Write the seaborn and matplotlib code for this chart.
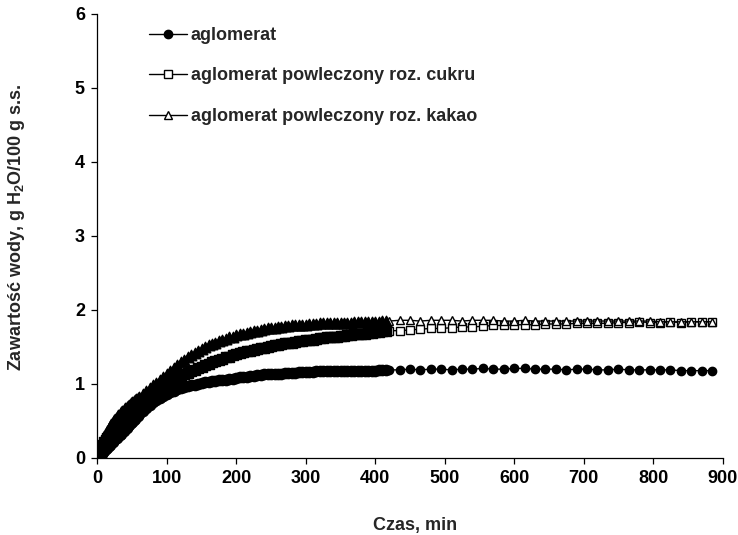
import numpy as np
import pandas as pd
import matplotlib
matplotlib.use("Agg")
import matplotlib.pyplot as plt
import seaborn as sns

# Measurement times [min]: every 2 min up to 60, every 5 min up to 415,
# then every 15 min until the end of the run
time_a = list(range(0, 61, 2))
time_b = list(range(65, 416, 5))
time_c = list(range(420, 886, 15))
czas = time_a + time_b + time_c
n_dense = len(time_a) + len(time_b)

labels = [
    "aglomerat",
    "aglomerat powleczony roz. cukru",
    "aglomerat powleczony roz. kakao",
]

# Water content [g H2O / 100 g d.m.]
aglomerat = [
    # 0-60 min
    0.00, 0.02, 0.04, 0.06, 0.08, 0.10, 0.12, 0.14, 0.16, 0.18,
    0.20, 0.22, 0.24, 0.25, 0.27, 0.29, 0.31, 0.33, 0.35, 0.37,
    0.39, 0.41, 0.43, 0.45, 0.47, 0.49, 0.51, 0.53, 0.55, 0.57,
    0.59,
    # 65-415 min
    0.63, 0.67, 0.71, 0.75, 0.78, 0.81, 0.84, 0.87, 0.89, 0.91,
    0.93, 0.95, 0.96, 0.97, 0.98, 0.99, 1.00, 1.01, 1.02, 1.03,
    1.04, 1.04, 1.05, 1.06, 1.06, 1.07, 1.07, 1.08, 1.09, 1.09,
    1.10, 1.11, 1.11, 1.12, 1.12, 1.13, 1.13, 1.13, 1.14, 1.14,
    1.14, 1.15, 1.15, 1.15, 1.15, 1.16, 1.16, 1.16, 1.16, 1.16,
    1.17, 1.17, 1.17, 1.17, 1.17, 1.17, 1.17, 1.18, 1.18, 1.18,
    1.18, 1.18, 1.18, 1.18, 1.18, 1.18, 1.18, 1.18, 1.19, 1.19,
    1.19,
    # 420-885 min
    1.19, 1.19, 1.20, 1.19, 1.20, 1.20, 1.19, 1.20, 1.20, 1.21,
    1.20, 1.20, 1.21, 1.21, 1.20, 1.20, 1.20, 1.19, 1.20, 1.20,
    1.19, 1.19, 1.20, 1.19, 1.19, 1.19, 1.19, 1.19, 1.18, 1.18,
    1.18, 1.18,
]

aglomerat_cukier = [
    # 0-60 min
    0.00, 0.05, 0.10, 0.14, 0.18, 0.21, 0.24, 0.27, 0.29, 0.32,
    0.34, 0.36, 0.39, 0.41, 0.43, 0.45, 0.47, 0.49, 0.51, 0.53,
    0.55, 0.57, 0.58, 0.60, 0.62, 0.63, 0.65, 0.66, 0.68, 0.70,
    0.71,
    # 65-415 min
    0.75, 0.79, 0.83, 0.86, 0.90, 0.93, 0.96, 0.99, 1.02, 1.05,
    1.08, 1.10, 1.13, 1.15, 1.17, 1.19, 1.21, 1.23, 1.25, 1.27,
    1.29, 1.31, 1.32, 1.34, 1.36, 1.37, 1.39, 1.40, 1.42, 1.43,
    1.44, 1.45, 1.46, 1.47, 1.48, 1.49, 1.50, 1.51, 1.52, 1.53,
    1.54, 1.55, 1.55, 1.56, 1.57, 1.58, 1.58, 1.59, 1.60, 1.60,
    1.61, 1.62, 1.62, 1.63, 1.63, 1.64, 1.64, 1.65, 1.65, 1.66,
    1.66, 1.67, 1.67, 1.68, 1.68, 1.69, 1.69, 1.70, 1.70, 1.71,
    1.71,
    # 420-885 min
    1.72, 1.72, 1.73, 1.74, 1.75, 1.75, 1.76, 1.77, 1.77, 1.78,
    1.79, 1.79, 1.80, 1.80, 1.80, 1.81, 1.81, 1.81, 1.82, 1.82,
    1.82, 1.82, 1.83, 1.83, 1.84, 1.83, 1.83, 1.84, 1.83, 1.84,
    1.84, 1.84,
]

aglomerat_kakao = [
    # 0-60 min
    0.00, 0.07, 0.14, 0.20, 0.25, 0.29, 0.33, 0.37, 0.40, 0.43,
    0.46, 0.49, 0.51, 0.53, 0.56, 0.58, 0.60, 0.62, 0.64, 0.65,
    0.67, 0.69, 0.70, 0.72, 0.74, 0.75, 0.77, 0.78, 0.80, 0.81,
    0.83,
    # 65-415 min
    0.87, 0.90, 0.94, 0.98, 1.01, 1.05, 1.09, 1.13, 1.17, 1.21,
    1.25, 1.29, 1.33, 1.36, 1.39, 1.42, 1.45, 1.47, 1.50, 1.52,
    1.54, 1.56, 1.58, 1.60, 1.61, 1.63, 1.64, 1.66, 1.67, 1.68,
    1.69, 1.70, 1.71, 1.72, 1.73, 1.74, 1.75, 1.75, 1.76, 1.77,
    1.77, 1.78, 1.78, 1.79, 1.79, 1.80, 1.80, 1.80, 1.81, 1.81,
    1.81, 1.82, 1.82, 1.82, 1.82, 1.83, 1.83, 1.83, 1.83, 1.83,
    1.83, 1.84, 1.84, 1.84, 1.84, 1.84, 1.84, 1.84, 1.84, 1.85,
    1.85,
    # 420-885 min
    1.85, 1.86, 1.86, 1.85, 1.86, 1.86, 1.86, 1.85, 1.86, 1.86,
    1.86, 1.85, 1.85, 1.86, 1.85, 1.85, 1.85, 1.85, 1.85, 1.85,
    1.85, 1.85, 1.85, 1.85, 1.85, 1.85, 1.84, 1.84, 1.84, 1.84,
    1.84, 1.84,
]

x_ticks = [0, 100, 200, 300, 400, 500, 600, 700, 800, 900]
y_ticks = [0, 1, 2, 3, 4, 5, 6]

sns.set_style("ticks")
plt.rcParams["font.family"] = ["Liberation Sans", "DejaVu Sans"]
plt.rcParams["font.weight"] = "bold"
plt.rcParams["mathtext.fontset"] = "custom"
plt.rcParams["mathtext.rm"] = "Liberation Sans:bold"
plt.rcParams["mathtext.it"] = "Liberation Sans:bold"
plt.rcParams["mathtext.bf"] = "Liberation Sans:bold"

series = [aglomerat, aglomerat_cukier, aglomerat_kakao]
df = pd.concat(
    [pd.DataFrame({"czas": czas, "woda": vals, "probka": lab,
                   "gesto": [True] * n_dense + [False] * (len(czas) - n_dense)})
     for lab, vals in zip(labels, series)],
    ignore_index=True,
)

fig = plt.figure(figsize=(7.38, 5.35), dpi=100)
ax = fig.add_axes([0.132, 0.144, 0.847, 0.830])

styles = [
    dict(marker="o", face="black", ms=6.0),
    dict(marker="s", face="white", ms=5.2),
    dict(marker="^", face="white", ms=6.2),
]
for lab, st in zip(labels, styles):
    sub = df[df["probka"] == lab]
    sns.lineplot(
        data=sub, x="czas", y="woda", ax=ax, color="black", linewidth=1.0,
        marker=st["marker"], markerfacecolor=st["face"], markersize=st["ms"],
        markeredgecolor="black", markeredgewidth=1.0, label=lab,
    )
    # closely spaced readings: overlapping symbols merge into a dark band
    sns.scatterplot(
        data=sub[sub["gesto"]], x="czas", y="woda", ax=ax,
        marker=st["marker"], s=(st["ms"] + 1.4) ** 2, color="black",
        edgecolor="black", linewidth=1.0, legend=False, zorder=3,
    )

ax.set_xlim(0, 900)
ax.set_ylim(0, 6)
ax.set_xticks(x_ticks)
ax.set_yticks(y_ticks)
ax.tick_params(axis="both", labelsize=13, length=4, width=0.9,
               colors="black", pad=5)
for lbl in ax.get_xticklabels() + ax.get_yticklabels():
    lbl.set_fontweight("bold")
sns.despine(ax=ax)
for s in ("left", "bottom"):
    ax.spines[s].set_linewidth(0.9)
    ax.spines[s].set_color("black")

ax.set_xlabel("Czas, min", fontsize=13, fontweight="bold")
ax.set_ylabel("Zawartość wody, g H$_2$O/100 g s.s.", fontsize=13,
              fontweight="bold")
ax.xaxis.set_label_coords(0.508, -0.133)
ax.yaxis.set_label_coords(-0.113, 0.52)

leg = ax.legend(loc="upper left", bbox_to_anchor=(149 / 738, 1 - 27 / 535),
                bbox_transform=fig.transFigure, frameon=False, fontsize=13,
                handlelength=2.1, handletextpad=0.2, labelspacing=1.3,
                borderpad=0, borderaxespad=0)
for t in leg.get_texts():
    t.set_fontweight("bold")

fig.savefig("out.png", dpi=100)
